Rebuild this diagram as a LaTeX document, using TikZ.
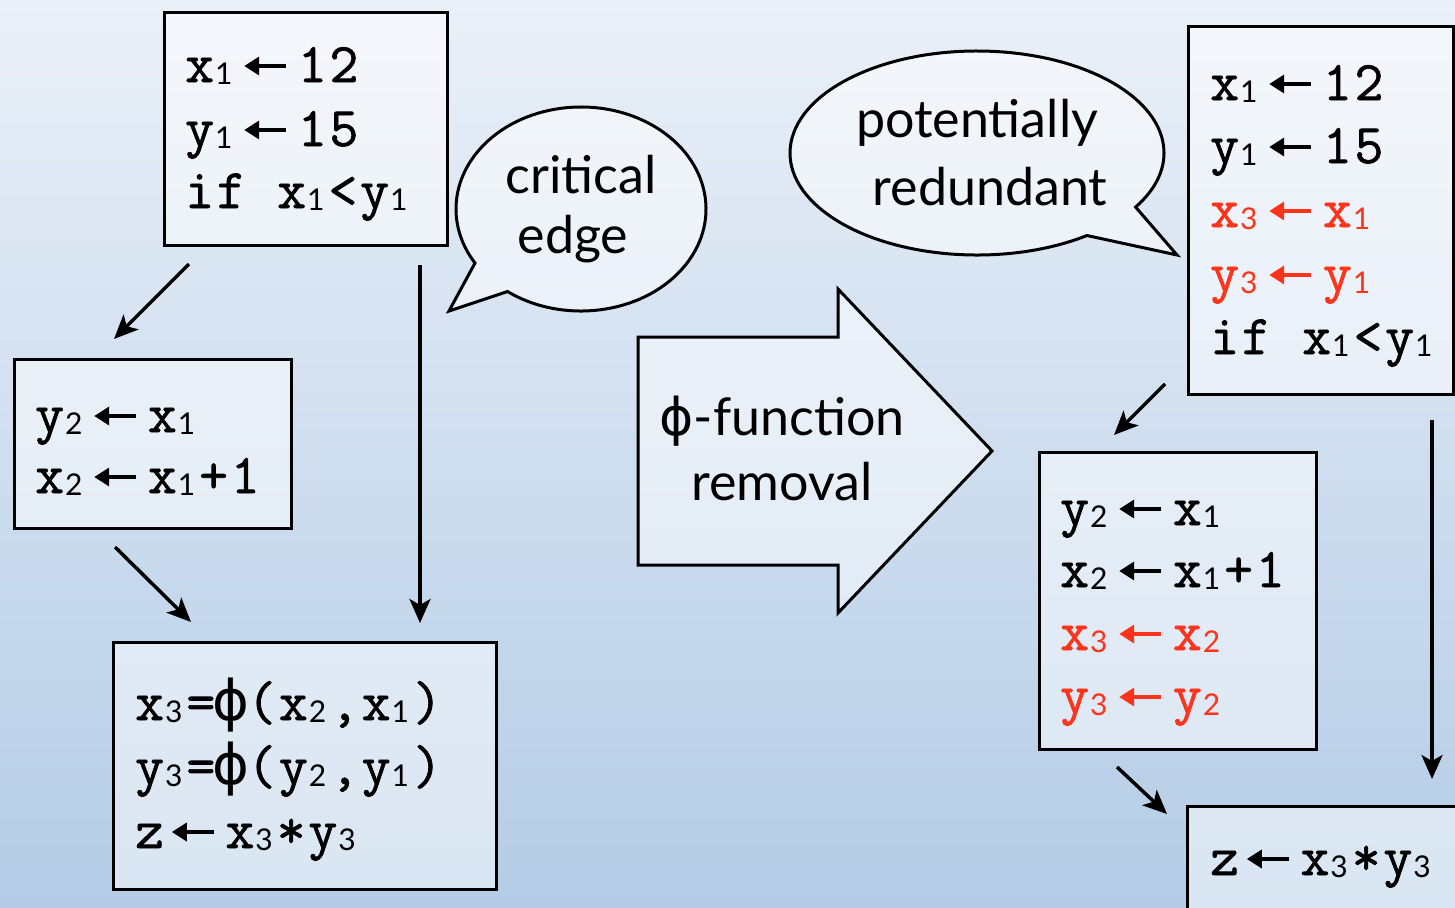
\documentclass[tikz,border=0pt]{standalone}
\usepackage{fontspec}
\setmainfont{Lato}
\setmonofont{Latin Modern Mono}[LetterSpace=5,FakeBold=1.2]
\newfontfamily\phifont{DejaVu Sans}
\usetikzlibrary{arrows.meta}
\definecolor{bgtop}{RGB}{234,240,248}
\definecolor{bgbot}{RGB}{180,204,230}
\definecolor{codered}{RGB}{252,52,28}
\newcommand\cfont{\ttfamily\fontsize{56}{56}\selectfont}
\newcommand\sayfont{\fontsize{52}{52}\selectfont}
\newcommand\sbs[1]{\hspace{1pt}\raisebox{-2pt}{\normalfont\fontsize{30}{30}\selectfont #1}\hspace{4pt}\cfont\ignorespaces}
\newcommand\larr[1][black]{\hspace{6pt}\tikz[x=1pt,y=1pt,baseline=0pt]\draw[#1,line width=3.5pt,{Triangle[length=15pt,width=18pt]}-] (0,16) -- (42,16);\hspace{10pt}\cfont\ignorespaces}
\newcommand\cphi{\makebox[32pt]{\phifont ϕ}\cfont}
\begin{document}
\begin{tikzpicture}[x=1pt,y=-1pt,
  box/.style={draw=black, line width=3pt, fill=white, fill opacity=0.5, rectangle, inner sep=0pt, anchor=north west},
  code/.style={anchor=base west, inner sep=0pt, font=\cfont},
  red/.style={text=codered},
  say/.style={anchor=base, inner sep=0pt, font=\sayfont},
  flow/.style={line width=3.5pt, -{Stealth[length=24pt,width=21pt,inset=6pt]}},
  bub/.style={draw=black, line width=3pt, fill=white, fill opacity=0.5, line join=miter}]
\path[use as bounding box] (0,0) rectangle (1455,907);
\shade[top color=bgtop, bottom color=bgbot] (0,0) rectangle (1455,907);
\begin{scope}
\clip (0,0) rectangle (1455,907);
% left boxes
\node[box, minimum width=283pt, minimum height=233pt] (A) at (163,11) {};
\node[box, minimum width=277pt, minimum height=169pt] (B) at (13,358) {};
\node[box, minimum width=383pt, minimum height=247pt] (C) at (112,641) {};
\node[code] (a1) at (185,82) {x\sbs1\larr 12};
\node[code] (a2) at (185,146) {y\sbs1\larr 15};
\node[code] (a3) at (185,208) {if x\sbs1<y\sbs1};
\node[code] (b1) at (35,432) {y\sbs2\larr x\sbs1};
\node[code] (b2) at (35,493) {x\sbs2\larr x\sbs1+1};
\node[code] (c1) at (135,720) {x\sbs3=\cphi(x\sbs2,x\sbs1)};
\node[code] (c2) at (135,784) {y\sbs3=\cphi(y\sbs2,y\sbs1)};
\node[code] (c3) at (135,848) {z\larr x\sbs3*y\sbs3};
% left arrows
\coordinate (l1s) at (189,264); \coordinate (l1e) at (114,339);
\coordinate (l2s) at (420,265); \coordinate (l2e) at (420,623);
\coordinate (l3s) at (115,547); \coordinate (l3e) at (191,622);
\draw[flow] (l1s) -- (l1e);
\draw[flow] (l2s) -- (l2e);
\draw[flow] (l3s) -- (l3e);
% critical edge bubble
\draw[bub] (581,209) ++(126:125 and 102) arc[start angle=126, end angle=-212, x radius=125, y radius=102] -- (449,311) -- cycle;
\node[say] (ce1) at (581,193) {critical};
\node[say] (ce2) at (573,253) {edge};
% big arrow
\draw[bub] (638,337) -- (838,337) -- (838,289) -- (992,451) -- (838,613) -- (838,565) -- (638,565) -- cycle;
\node[say] (fr1) at (782,435) {{\phifont ϕ}-function};
\node[say] (fr2) at (782,500) {removal};
% potentially redundant bubble
\draw[bub] (977,153) ++(54:187 and 102) arc[start angle=54, end angle=392, x radius=187, y radius=102] -- (1177,255) -- cycle;
\node[say] (pr1) at (977,137) {potentially};
\node[say] (pr2) at (990,205) {redundant};
% right boxes
\node[box, minimum width=265pt, minimum height=368pt] (D) at (1187,25) {};
\node[box, minimum width=277pt, minimum height=297pt] (E) at (1038,451) {};
\node[box, minimum width=300pt, minimum height=150pt] (F) at (1186,805) {};
\node[code] (d1) at (1210,100) {x\sbs1\larr 12};
\node[code] (d2) at (1210,163) {y\sbs1\larr 15};
\node[code,red] (d3) at (1210,227) {x\sbs3\larr[codered] x\sbs1};
\node[code,red] (d4) at (1210,291) {y\sbs3\larr[codered] y\sbs1};
\node[code] (d5) at (1210,354) {if x\sbs1<y\sbs1};
\node[code] (e1) at (1060,525) {y\sbs2\larr x\sbs1};
\node[code] (e2) at (1060,587) {x\sbs2\larr x\sbs1+1};
\node[code,red] (e3) at (1060,650) {x\sbs3\larr[codered] x\sbs2};
\node[code,red] (e4) at (1060,713) {y\sbs3\larr[codered] y\sbs2};
\node[code] (f1) at (1210,875) {z\larr x\sbs3*y\sbs3};
% right arrows
\coordinate (r1s) at (1165,384); \coordinate (r1e) at (1114,435);
\coordinate (r2s) at (1432,420); \coordinate (r2e) at (1432,779);
\coordinate (r3s) at (1117,767); \coordinate (r3e) at (1167,814);
\draw[flow] (r1s) -- (r1e);
\draw[flow] (r2s) -- (r2e);
\draw[flow] (r3s) -- (r3e);
\end{scope}
\end{tikzpicture}
\end{document}
